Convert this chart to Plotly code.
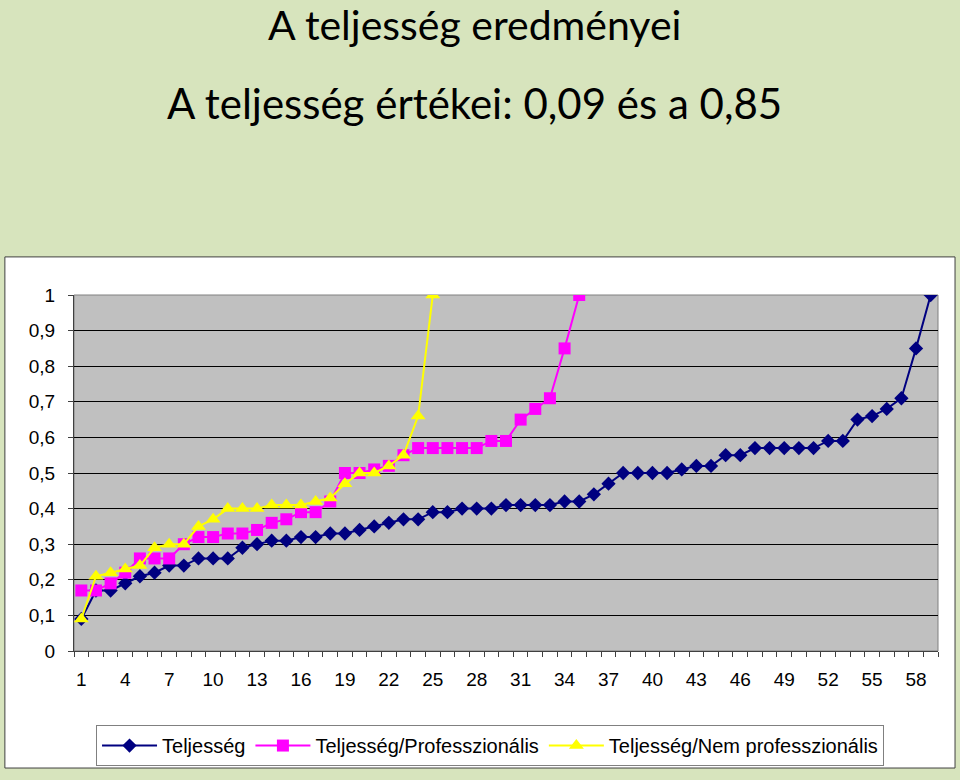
import plotly.graph_objects as go

categories = list(range(1, 60))
x_tick_vals = list(range(1, 60, 3))
x_tick_text = [str(v) for v in x_tick_vals]

teljesseg = [0.09, 0.17, 0.17, 0.19, 0.21, 0.22, 0.24, 0.24, 0.26, 0.26,
             0.26, 0.29, 0.30, 0.31, 0.31, 0.32, 0.32, 0.33, 0.33, 0.34,
             0.35, 0.36, 0.37, 0.37, 0.39, 0.39, 0.40, 0.40, 0.40, 0.41,
             0.41, 0.41, 0.41, 0.42, 0.42, 0.44, 0.47, 0.50, 0.50, 0.50,
             0.50, 0.51, 0.52, 0.52, 0.55, 0.55, 0.57, 0.57, 0.57, 0.57,
             0.57, 0.59, 0.59, 0.65, 0.66, 0.68, 0.71, 0.85, 1.00]
professzionalis = [0.17, 0.17, 0.19, 0.22, 0.26, 0.26, 0.26, 0.30, 0.32, 0.32,
                   0.33, 0.33, 0.34, 0.36, 0.37, 0.39, 0.39, 0.42, 0.50, 0.50,
                   0.51, 0.52, 0.55, 0.57, 0.57, 0.57, 0.57, 0.57, 0.59, 0.59,
                   0.65, 0.68, 0.71, 0.85, 1.00]
nem_professzionalis = [0.09, 0.21, 0.22, 0.23, 0.24, 0.29, 0.30, 0.30, 0.35, 0.37,
                       0.40, 0.40, 0.40, 0.41, 0.41, 0.41, 0.42, 0.43, 0.47, 0.50,
                       0.50, 0.52, 0.55, 0.66, 1.00]

series_names = ["Teljesség", "Teljesség/Professzionális", "Teljesség/Nem professzionális"]
title1 = "A teljesség eredményei"
title2 = "A teljesség értékei: 0,09 és a 0,85"

fig = go.Figure()
fig.add_trace(go.Scatter(
    x=categories[:len(teljesseg)], y=teljesseg, name=series_names[0],
    mode="lines+markers", line=dict(color="#000080", width=2),
    marker=dict(symbol="diamond", size=11, color="#000080")))
fig.add_trace(go.Scatter(
    x=categories[:len(professzionalis)], y=professzionalis, name=series_names[1],
    mode="lines+markers", line=dict(color="#FF00FF", width=2),
    marker=dict(symbol="square", size=12, color="#FF00FF")))
fig.add_trace(go.Scatter(
    x=categories[:len(nem_professzionalis)], y=nem_professzionalis, name=series_names[2],
    mode="lines+markers", line=dict(color="#FFFF00", width=2),
    marker=dict(symbol="triangle-up", size=13, color="#FFFF00")))

axis_font = dict(family="Liberation Sans, Arial", size=19, color="#000000")

fig.update_layout(
    width=960, height=780,
    margin=dict(l=74, r=22, t=295, b=129),
    paper_bgcolor="#D7E4BD",
    plot_bgcolor="rgba(0,0,0,0)",
    separators=", ",
    showlegend=True,
    legend=dict(
        orientation="h", x=0.0255, y=-0.208, xanchor="left", yanchor="top",
        bgcolor="#FFFFFF", bordercolor="#808080", borderwidth=1,
        font=dict(family="Liberation Sans, Arial", size=20, color="#000000"),
        itemwidth=55,
    ),
    xaxis=dict(
        range=[0.5, 59.5], tickmode="array", tickvals=x_tick_vals, ticktext=x_tick_text,
        ticks="", showgrid=False, zeroline=False,
        showline=True, linecolor="#404040", linewidth=1,
        tickfont=axis_font, ticklabelstandoff=11,
        minor=dict(tickmode="linear", tick0=0.5, dtick=1, ticks="outside",
                   ticklen=5, tickcolor="#404040", showgrid=False),
        fixedrange=True,
    ),
    yaxis=dict(
        range=[0, 1], dtick=0.1, tick0=0,
        ticks="outside", ticklen=5, tickcolor="#404040",
        showgrid=True, gridcolor="#000000", gridwidth=1,
        zeroline=False, showline=True, linecolor="#404040", linewidth=1,
        tickfont=axis_font, ticklabelstandoff=9,
        fixedrange=True,
    ),
    shapes=[
        dict(type="rect", xref="paper", yref="paper", x0=-0.0800, x1=1.0197,
             y0=-0.3287, y1=1.107, fillcolor="#FFFFFF",
             line=dict(color="#404040", width=1), layer="below"),
        dict(type="rect", xref="paper", yref="paper", x0=0, x1=1, y0=0, y1=1,
             fillcolor="#C0C0C0", line=dict(color="#808080", width=1), layer="below"),
    ],
    annotations=[
        dict(text=title1, xref="paper", yref="paper", x=0.4635, y=1.760,
             xanchor="center", yanchor="middle", showarrow=False,
             font=dict(family="Lato", size=41, color="#000000")),
        dict(text=title2, xref="paper", yref="paper", x=0.4635, y=1.539,
             xanchor="center", yanchor="middle", showarrow=False,
             font=dict(family="Lato", size=42, color="#000000")),
    ],
)

fig.write_html("out.html")
